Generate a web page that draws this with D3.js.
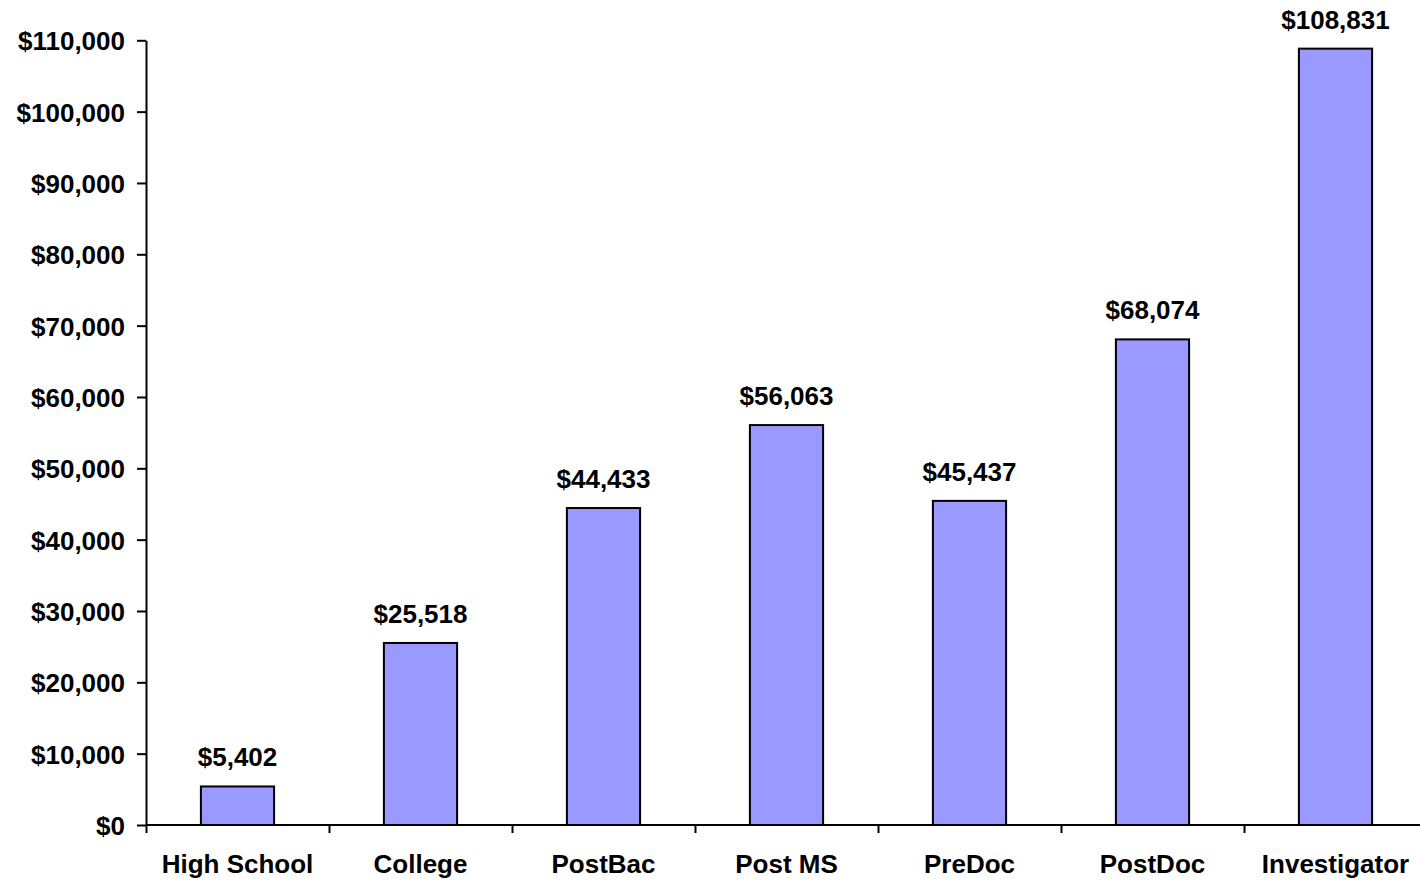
<!DOCTYPE html>
<html>
<head>
<meta charset="utf-8">
<script src="https://cdn.jsdelivr.net/npm/d3@7"></script>
<style>
body { margin: 0; background: #fff; }
text { font-family: Arial, "Liberation Sans", sans-serif; font-weight: bold; fill: #000; }
</style>
</head>
<body>
<script>
// chart data
var categories = ["High School", "College", "PostBac", "Post MS", "PreDoc", "PostDoc", "Investigator"]
var salaries = [5402, 25518, 44433, 56063, 45437, 68074, 108831]
var yTicks = [0, 10000, 20000, 30000, 40000, 50000, 60000, 70000, 80000, 90000, 100000, 110000]

var width = 1420, height = 882
var plotLeft = 146, plotRight = 1427, plotTop = 40.3, plotBottom = 825

var svg = d3.select("body").append("svg")
    .attr("width", width)
    .attr("height", height)

var x = d3.scaleBand()
    .domain(categories)
    .range([plotLeft, plotRight])
    .paddingInner(0.6)
    .paddingOuter(0.3)

// boundaries between categories, for the x tick marks
var xEdge = d3.scaleLinear()
    .domain([0, categories.length])
    .range([plotLeft, plotRight])

var y = d3.scaleLinear()
    .domain([0, 110000])
    .range([plotBottom, plotTop])

var money = d3.format(",")

/* bars */
svg.selectAll("rect.bar")
    .data(salaries)
    .enter()
    .append("rect")
    .attr("class", "bar")
    .attr("x", function(d, i) { return x(categories[i]) })
    .attr("y", function(d) { return y(d) })
    .attr("width", x.bandwidth())
    .attr("height", function(d) { return plotBottom - y(d) })
    .attr("fill", "#9999ff")
    .attr("stroke", "#000")
    .attr("stroke-width", 2)

/* value labels */
svg.selectAll("text.value")
    .data(salaries)
    .enter()
    .append("text")
    .attr("class", "value")
    .attr("text-anchor", "middle")
    .attr("x", function(d, i) { return x(categories[i]) + x.bandwidth() / 2 })
    .attr("y", function(d) { return y(d) - 20 })
    .attr("font-size", "26px")
    .text(function(d) { return "$" + money(d) })

/* y axis */
var yAxis = svg.append("g")
    .attr("transform", "translate(" + plotLeft + ",0)")
    .call(d3.axisLeft(y)
        .tickValues(yTicks)
        .tickSize(9)
        .tickSizeOuter(0)
        .tickPadding(12)
        .tickFormat(function(d) { return "$" + money(d) }))
yAxis.attr("font-family", null).attr("font-size", null)
yAxis.selectAll("text")
    .attr("font-size", "26px")
    .attr("dy", "0.36em")
yAxis.selectAll("line, path").attr("stroke-width", 2)

/* x axis: tick marks sit between the categories */
var xAxis = svg.append("g")
    .attr("transform", "translate(0," + plotBottom + ")")
    .call(d3.axisBottom(xEdge)
        .tickValues(d3.range(0, categories.length))
        .tickSize(8)
        .tickSizeOuter(0)
        .tickFormat(""))
xAxis.select("path.domain")
    .attr("d", "M" + plotLeft + ",0H" + width)
xAxis.selectAll("line, path").attr("stroke-width", 2)

svg.selectAll("text.cat")
    .data(categories)
    .enter()
    .append("text")
    .attr("class", "cat")
    .attr("text-anchor", "middle")
    .attr("x", function(d) { return x(d) + x.bandwidth() / 2 })
    .attr("y", plotBottom + 48)
    .attr("font-size", "26px")
    .text(function(d) { return d })
</script>
</body>
</html>
